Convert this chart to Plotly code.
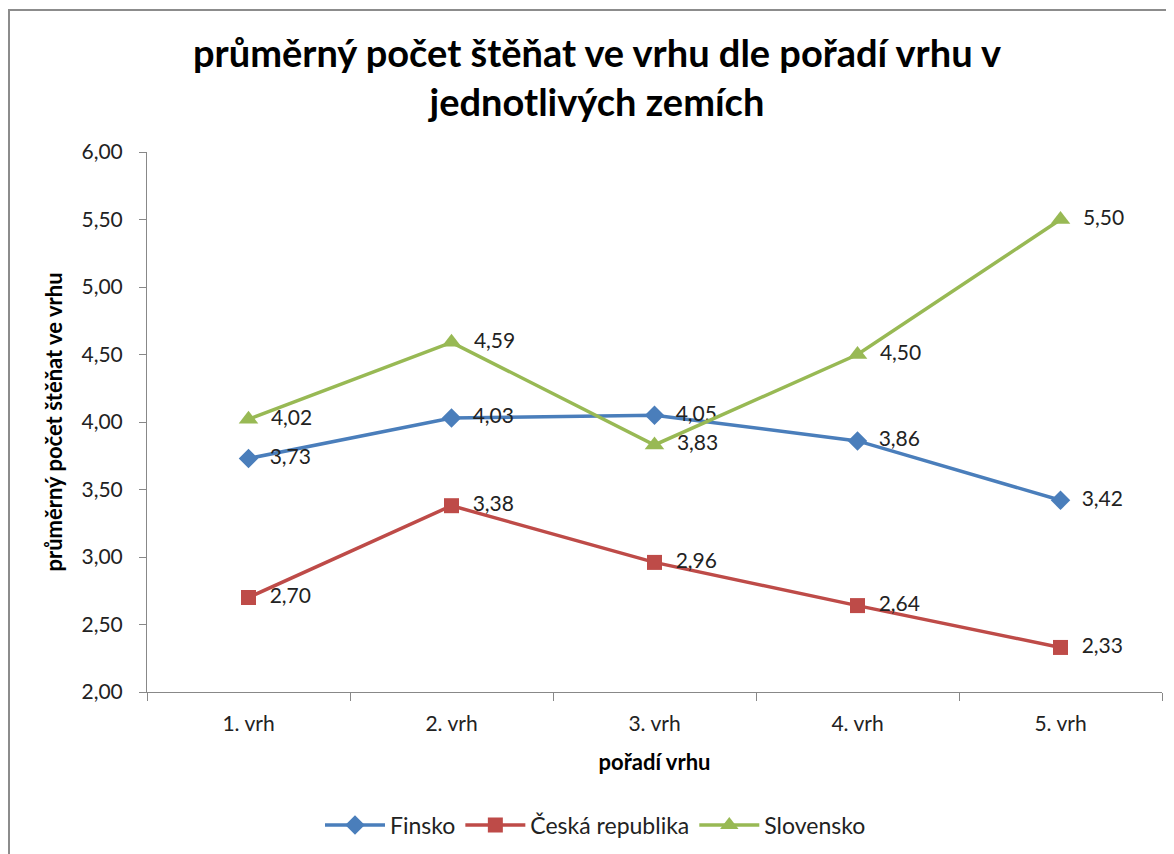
import plotly.graph_objects as go

categories = ["1. vrh", "2. vrh", "3. vrh", "4. vrh", "5. vrh"]
finsko = [3.73, 4.03, 4.05, 3.86, 3.42]
ceska = [2.70, 3.38, 2.96, 2.64, 2.33]
slovensko = [4.02, 4.59, 3.83, 4.50, 5.50]
y_ticks = [2.0, 2.5, 3.0, 3.5, 4.0, 4.5, 5.0, 5.5, 6.0]

# page body has an 8px margin, so the figure is sized/offset to compensate
W, H = 1166, 846
L, R, T, B = 139, 12, 144, 162
pw, ph = W - L - R, H - T - B

FONT = "Lato, 'Open Sans', sans-serif"

def fmt(v):
    return ("%.2f" % v).replace(".", ",")

series = [
    ("Finsko", finsko, "#4A7EBB", "diamond", 15),
    ("Česká republika", ceska, "#BE4B48", "square", 15),
    ("Slovensko", slovensko, "#98B954", "triangle-up", 17),
]

fig = go.Figure()
for name, vals, col, sym, ms in series:
    fig.add_trace(go.Scatter(
        x=categories, y=vals, name=name, mode="lines+markers+text",
        line=dict(color=col, width=3.5),
        marker=dict(symbol=sym, size=ms, color=col),
        text=["  " + fmt(v) for v in vals],
        textposition="middle right",
        textfont=dict(family=FONT, size=21, color="#222222"),
        cliponaxis=False,
    ))

fig.update_layout(
    width=W, height=H,
    margin=dict(l=L, r=R, t=T, b=B, autoexpand=False),
    paper_bgcolor="white", plot_bgcolor="white",
    separators=", ",
    font=dict(family=FONT, size=21, color="#222222"),
    title=dict(
        text="průměrný počet štěňat ve vrhu dle pořadí vrhu v<br>jednotlivých zemích",
        x=589 / W, xanchor="center", y=1 - 59 / H, yanchor="middle",
        font=dict(family=FONT, size=38, color="black", weight="bold"),
    ),
    xaxis=dict(
        type="category", range=[-0.5, 4.5], automargin=False,
        showline=True, linecolor="#888888", linewidth=1,
        ticks="outside", ticklen=8, tickcolor="#888888", tickson="boundaries",
        showgrid=False, zeroline=False,
        tickfont=dict(size=21), ticklabelstandoff=13,
        title=dict(text="<b>pořadí vrhu</b>", font=dict(size=22, color="black"), standoff=20),
    ),
    yaxis=dict(
        range=[2, 6], tickvals=y_ticks, tickformat=".2f", automargin=False,
        showline=True, linecolor="#888888", linewidth=1,
        ticks="outside", ticklen=7, tickcolor="#888888",
        showgrid=False, zeroline=False,
        tickfont=dict(size=21), ticklabelstandoff=12,
        title=dict(text="<b>průměrný počet štěňat ve vrhu</b>", font=dict(size=22, color="black"), standoff=12),
    ),
    legend=dict(
        orientation="h", x=(312 - L) / pw, xanchor="left",
        y=-(817 - (T + ph)) / ph, yanchor="middle",
        font=dict(size=23), itemwidth=60,
    ),
    showlegend=True,
)

# chart border
fig.add_shape(type="rect", xref="paper", yref="paper",
              x0=(1 - L) / pw, x1=(W + 10 - L) / pw,
              y0=-(H + 10 - T - ph) / ph, y1=(T + ph - 2) / ph,
              line=dict(color="#8C8C8C", width=2), fillcolor="rgba(0,0,0,0)", layer="below")

fig.write_html("out.html")
